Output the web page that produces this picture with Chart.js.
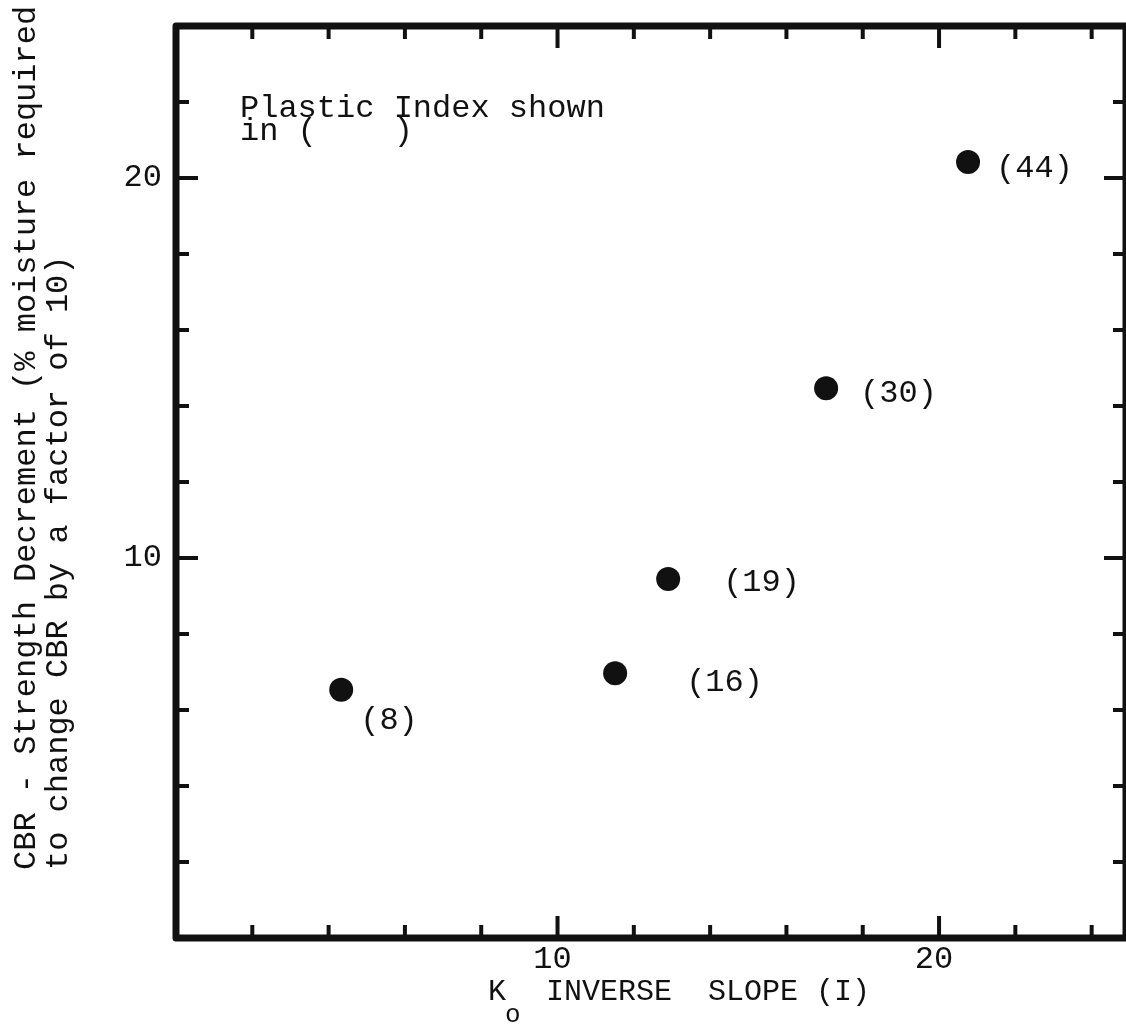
<!DOCTYPE html>
<html>
<head>
<meta charset="utf-8">
<script src="https://cdn.jsdelivr.net/npm/chart.js@4"></script>
<style>
  html, body { margin: 0; padding: 0; background: #fff; }
  canvas { display: block; }
</style>
</head>
<body>
<canvas id="cbrChart" width="1126" height="1028"></canvas>
<script>
// Soil samples: inverse slope K_o vs. CBR strength decrement
const inverseSlope = [4.33, 11.51, 12.9, 17.04, 20.76];
const strengthDecrement = [6.53, 6.97, 9.45, 14.47, 20.42];
const plasticIndex = [8, 16, 19, 30, 44];

// Tick marks and labelled values
const xTickMarks = [2, 4, 6, 8, 10, 12, 14, 16, 18, 20, 22, 24];
const yTickMarks = [2, 4, 6, 8, 10, 12, 14, 16, 18, 20, 22];
const xTickLabels = [10, 20];
const yTickLabels = [10, 20];

const yTitleLines = [
  "CBR - Strength Decrement (% moisture required",
  "to change CBR by a factor of 10)"
];
const noteLines = ["Plastic Index shown", "in (    )"];

const FONT = '"Liberation Mono", "DejaVu Sans Mono", monospace';
const INK = "#111";

// where each "(PI)" label sits relative to its dot
const labelOffsets = [[19, 39], [71, 18], [55, 12], [34, 14], [28, 15]];

// frame, inside tick marks, point labels and titles
const framePlugin = {
  id: "frame",
  afterDraw(chart) {
    const { ctx, chartArea: a, scales } = chart;
    const xs = scales.x, ys = scales.y;
    ctx.save();
    ctx.strokeStyle = INK;

    // inside ticks on all four sides
    ctx.lineWidth = 4;
    ctx.beginPath();
    xTickMarks.forEach(v => {
      const px = xs.getPixelForValue(v);
      const len = xTickLabels.includes(v) ? 22 : 13;
      ctx.moveTo(px, a.bottom); ctx.lineTo(px, a.bottom - len);
      ctx.moveTo(px, a.top); ctx.lineTo(px, a.top + len);
    });
    yTickMarks.forEach(v => {
      const py = ys.getPixelForValue(v);
      const len = yTickLabels.includes(v) ? 22 : 13;
      ctx.moveTo(a.left, py); ctx.lineTo(a.left + len, py);
      ctx.moveTo(a.right, py); ctx.lineTo(a.right - len, py);
    });
    ctx.stroke();

    // heavy frame
    ctx.lineWidth = 7;
    ctx.lineJoin = "round";
    ctx.strokeRect(a.left, a.top, a.right - a.left, a.bottom - a.top);

    ctx.fillStyle = INK;
    ctx.textBaseline = "alphabetic";
    ctx.textAlign = "left";

    // plastic index next to each point
    ctx.font = "32px " + FONT;
    const pts = chart.getDatasetMeta(0).data;
    pts.forEach((p, i) => {
      const [dx, dy] = labelOffsets[i];
      ctx.fillText("(" + plasticIndex[i] + ")", p.x + dx, p.y + dy);
    });

    // note in the upper left corner
    ctx.fillText(noteLines[0], a.left + 64, 117);
    ctx.fillText(noteLines[1], a.left + 64, 140);

    // x axis title with subscript
    ctx.font = "30px " + FONT;
    ctx.fillText("K", 488, 1000);
    ctx.font = "26px " + FONT;
    ctx.fillText("o", 505, 1022);
    ctx.font = "30px " + FONT;
    ctx.fillText("INVERSE  SLOPE (I)", 546, 1000);

    // y axis title, two left-aligned rotated lines
    ctx.font = "32px " + FONT;
    [35, 67].forEach((bx, i) => {
      ctx.save();
      ctx.translate(bx, 870);
      ctx.rotate(-Math.PI / 2);
      ctx.fillText(yTitleLines[i], 0, 0);
      ctx.restore();
    });
    ctx.restore();
  }
};

new Chart(document.getElementById("cbrChart"), {
  type: "scatter",
  data: {
    datasets: [{
      data: inverseSlope.map((x, i) => ({ x: x, y: strengthDecrement[i] })),
      backgroundColor: INK,
      borderWidth: 0,
      pointRadius: 12,
      pointHoverRadius: 12
    }]
  },
  options: {
    responsive: false,
    animation: false,
    layout: { autoPadding: false, padding: { top: 26, right: 0, bottom: 0, left: 0 } },
    plugins: { legend: { display: false }, tooltip: { enabled: false } },
    scales: {
      x: {
        type: "linear",
        min: 0,
        max: 24.9,
        grid: { display: false, drawTicks: false },
        border: { display: false },
        afterBuildTicks: axis => { axis.ticks = xTickLabels.map(v => ({ value: v })); },
        afterFit: axis => {
          axis.height = 90;
          axis.paddingLeft = 0;
          axis.paddingRight = 0;
        },
        ticks: {
          color: INK,
          padding: 2,
          labelOffset: -5,
          maxRotation: 0,
          font: { family: FONT, size: 32 },
          callback: v => String(v)
        }
      },
      y: {
        type: "linear",
        min: 0,
        max: 24,
        grid: { display: false, drawTicks: false },
        border: { display: false },
        afterBuildTicks: axis => { axis.ticks = yTickLabels.map(v => ({ value: v })); },
        afterFit: axis => {
          axis.width = 176;
          axis.paddingTop = 0;
          axis.paddingBottom = 0;
        },
        ticks: {
          color: INK,
          padding: 14,
          font: { family: FONT, size: 32 },
          callback: v => String(v)
        }
      }
    }
  },
  plugins: [framePlugin]
});
</script>
</body>
</html>
